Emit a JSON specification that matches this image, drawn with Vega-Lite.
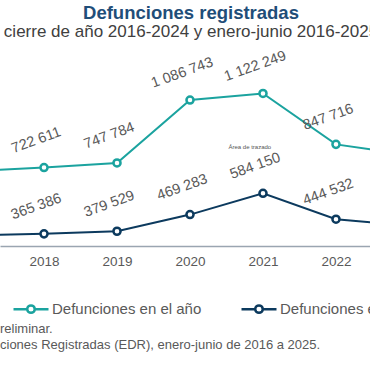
{
  "$schema": "https://vega.github.io/schema/vega-lite/v6.json",
  "autosize": {"type": "none"},
  "width": 370,
  "height": 167,
  "padding": {"left": 0, "right": 0, "top": 79, "bottom": 124},
  "background": "white",
  "title": {
    "text": "Defunciones registradas",
    "subtitle": "cierre de año 2016-2024 y enero-junio 2016-2025",
    "anchor": "middle",
    "frame": "group",
    "dx": 6,
    "offset": 8,
    "font": "Liberation Sans",
    "fontSize": 18.5,
    "fontWeight": "bold",
    "color": "#1F4E79",
    "subtitleFont": "Liberation Sans",
    "subtitleFontSize": 17,
    "subtitleColor": "#404040",
    "subtitlePadding": 1.5
  },
  "data": {
    "values": [
      {"year": 2017, "series": "Defunciones en el año", "value": 704000},
      {"year": 2018, "series": "Defunciones en el año", "value": 722611},
      {"year": 2019, "series": "Defunciones en el año", "value": 747784},
      {"year": 2020, "series": "Defunciones en el año", "value": 1086743},
      {"year": 2021, "series": "Defunciones en el año", "value": 1122249},
      {"year": 2022, "series": "Defunciones en el año", "value": 847716},
      {"year": 2023, "series": "Defunciones en el año", "value": 790000},
      {"year": 2017, "series": "Defunciones enero-junio", "value": 357000},
      {"year": 2018, "series": "Defunciones enero-junio", "value": 365386},
      {"year": 2019, "series": "Defunciones enero-junio", "value": 379529},
      {"year": 2020, "series": "Defunciones enero-junio", "value": 469283},
      {"year": 2021, "series": "Defunciones enero-junio", "value": 584150},
      {"year": 2022, "series": "Defunciones enero-junio", "value": 444532},
      {"year": 2023, "series": "Defunciones enero-junio", "value": 410000}
    ]
  },
  "encoding": {
    "x": {
      "field": "year",
      "type": "quantitative",
      "scale": {"domain": [2017.397, 2022.466], "nice": false, "zero": false},
      "axis": {
        "values": [2018, 2019, 2020, 2021, 2022],
        "format": "d",
        "title": null,
        "grid": false,
        "ticks": false,
        "labelFont": "Liberation Sans",
        "labelFontSize": 13.5,
        "labelColor": "#595959",
        "labelPadding": 8,
        "domainColor": "#9AA5B1",
        "domainWidth": 1.5
      }
    },
    "y": {
      "field": "value",
      "type": "quantitative",
      "scale": {"domain": [300000, 1200000], "nice": false, "zero": false},
      "axis": null
    },
    "color": {
      "field": "series",
      "type": "nominal",
      "scale": {
        "domain": ["Defunciones en el año", "Defunciones enero-junio"],
        "range": ["#1BA39F", "#0C3A5E"]
      },
      "legend": {
        "orient": "bottom",
        "direction": "horizontal",
        "title": ["reliminar.", "ciones Registradas (EDR), enero-junio de 2016 a 2025."],
        "titleOrient": "bottom",
        "titleAnchor": "start",
        "titleFont": "Liberation Sans",
        "titleFontSize": 13,
        "titleFontWeight": "normal",
        "titleColor": "#595959",
        "titleLimit": 600,
        "titleLineHeight": 15.5,
        "titlePadding": 5,
        "labelFont": "Liberation Sans",
        "labelFontSize": 15,
        "labelColor": "#595959",
        "labelLimit": 300,
        "labelOffset": 2,
        "symbolOffset": 12,
        "symbolType": "M-1,0H-0.214M0.214,0H1M-0.214,0A0.214,0.214,0,1,1,0.214,0A0.214,0.214,0,1,1,-0.214,0Z",
        "symbolSize": 1225,
        "symbolStrokeWidth": 2.5,
        "symbolFillColor": "white",
        "columnPadding": 26,
        "padding": 0,
        "offset": 22
      }
    }
  },
  "layer": [
    {
      "mark": {"type": "line", "strokeWidth": 2, "clip": true}
    },
    {
      "mark": {"type": "point", "shape": "circle", "filled": false, "fill": "white", "fillOpacity": 1, "opacity": 1, "size": 50, "strokeWidth": 2.5, "clip": true}
    },
    {
      "mark": {"type": "text", "angle": 340, "dx": 2, "dy": -28, "align": "center", "baseline": "middle", "font": "Liberation Sans", "fontSize": 14.5, "color": "#595959"},
      "encoding": {
        "text": {"field": "value", "type": "quantitative", "format": ",d"},
        "color": {"value": "#595959"}
      }
    },
    {
      "data": {"values": [{"year": 2020.82, "value": 832000, "note": "Área de trazado"}]},
      "mark": {"type": "text", "font": "Liberation Sans", "fontSize": 6, "color": "#555555", "align": "center", "baseline": "middle"},
      "encoding": {
        "x": {"field": "year", "type": "quantitative"},
        "y": {"field": "value", "type": "quantitative"},
        "text": {"field": "note"},
        "color": {"value": "#555555"}
      }
    }
  ],
  "config": {
    "view": {"stroke": null},
    "locale": {
      "number": {"decimal": ".", "thousands": " ", "grouping": [3], "currency": ["$", ""]}
    }
  }
}
